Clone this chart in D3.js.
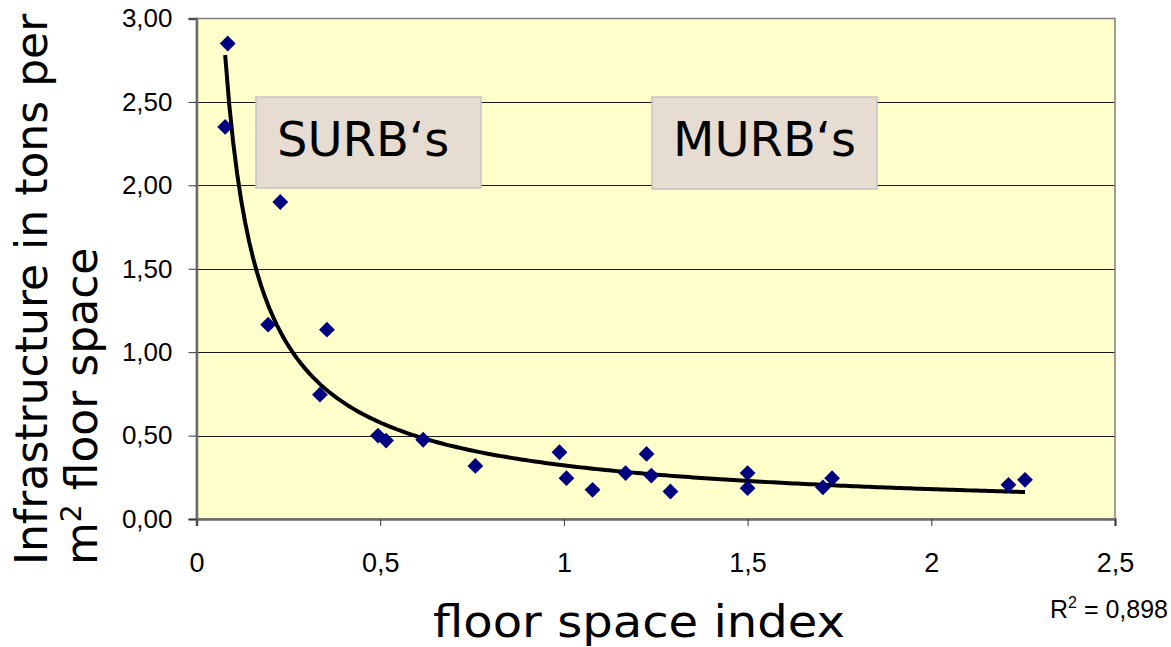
<!DOCTYPE html>
<html>
<head>
<meta charset="utf-8">
<script src="https://cdn.jsdelivr.net/npm/d3@7"></script>
<style>
  html, body { margin: 0; padding: 0; background: #ffffff; }
  svg { display: block; }
</style>
</head>
<body>
<svg id="chart" width="1171" height="647"></svg>
<script>
// ---- Data ----
const fsi = [0.085, 0.078, 0.228, 0.195, 0.355, 0.336, 0.494, 0.516, 0.617, 0.759,
             0.988, 1.007, 1.078, 1.168, 1.225, 1.238, 1.290, 1.500, 1.500, 1.705,
             1.730, 2.210, 2.255];
const infra = [2.85, 2.35, 1.90, 1.165, 1.135, 0.745, 0.50, 0.47, 0.475, 0.318,
               0.40, 0.245, 0.175, 0.275, 0.39, 0.26, 0.165, 0.275, 0.185, 0.19,
               0.245, 0.205, 0.235];
const yTicks = [0, 0.5, 1, 1.5, 2, 2.5, 3];
const xTicks = [0, 0.5, 1, 1.5, 2, 2.5];
const yTickLabels = ["0,00", "0,50", "1,00", "1,50", "2,00", "2,50", "3,00"];
const xTickLabels = ["0", "0,5", "1", "1,5", "2", "2,5"];
const groupLabels = ["SURB\u2018s", "MURB\u2018s"];
const r2Label = "0,898";

// ---- Layout ----
const plot = { left: 196.5, right: 1115, top: 18.5, bottom: 519 };

const svg = d3.select("#chart");
const x = d3.scaleLinear().domain([0, 2.5]).range([plot.left, plot.right]);
const y = d3.scaleLinear().domain([0, 3]).range([plot.bottom, plot.top]);

// plot background
svg.append("rect")
  .attr("x", plot.left).attr("y", plot.top)
  .attr("width", plot.right - plot.left).attr("height", plot.bottom - plot.top)
  .attr("fill", "#ffffcc");

// gridlines
svg.append("g")
  .selectAll("line")
  .data(yTicks.filter(d => d > 0 && d < 3))
  .join("line")
  .attr("x1", plot.left).attr("x2", plot.right)
  .attr("y1", d => Math.round(y(d)) + 0.5).attr("y2", d => Math.round(y(d)) + 0.5)
  .attr("stroke", "#1a1a1a").attr("stroke-width", 1);

// plot border
svg.append("rect")
  .attr("x", plot.left).attr("y", plot.top)
  .attr("width", plot.right - plot.left).attr("height", plot.bottom - plot.top)
  .attr("fill", "none").attr("stroke", "#7f7f7f").attr("stroke-width", 1.5);

// axes
const yAxis = d3.axisLeft(y).tickValues(yTicks).tickSize(8).tickPadding(16)
  .tickFormat((d, i) => yTickLabels[i]);
const gy = svg.append("g").attr("transform", `translate(${plot.left},0)`).call(yAxis);
gy.select(".domain").attr("stroke", "#6b6b6b").attr("stroke-width", 2.5);
gy.selectAll(".tick line").attr("stroke", "#333").attr("stroke-width", 1);
gy.selectAll("text").attr("font-family", "Liberation Sans, Arial, sans-serif")
  .attr("font-size", 26).attr("fill", "#000");

const xAxis = d3.axisBottom(x).tickValues(xTicks).tickSize(7).tickPadding(27)
  .tickFormat((d, i) => xTickLabels[i]);
const gx = svg.append("g").attr("transform", `translate(0,${plot.bottom})`).call(xAxis);
gx.select(".domain").attr("stroke", "#6b6b6b").attr("stroke-width", 2.5);
gx.selectAll(".tick line").attr("stroke", "#333").attr("stroke-width", 1);
gx.selectAll("text").attr("font-family", "Liberation Sans, Arial, sans-serif")
  .attr("font-size", 27).attr("fill", "#000");

// power trendline fitted to the data (least squares in log space)
const pts = fsi.map((v, i) => [v, infra[i]]);
const lx = pts.map(p => Math.log(p[0])), ly = pts.map(p => Math.log(p[1]));
const mx = d3.mean(lx), my = d3.mean(ly);
const b = d3.sum(lx.map((v, i) => (v - mx) * (ly[i] - my))) / d3.sum(lx.map(v => (v - mx) ** 2));
const a = Math.exp(my - b * mx);
const [xmin, xmax] = d3.extent(fsi);
const trend = d3.range(0, 201).map(i => {
  const xv = xmin + (xmax - xmin) * i / 200;
  return [xv, a * Math.pow(xv, b)];
});
svg.append("path")
  .datum(trend)
  .attr("d", d3.line().x(d => x(d[0])).y(d => y(d[1])))
  .attr("fill", "none").attr("stroke", "#000").attr("stroke-width", 4)
  .attr("stroke-linejoin", "round");

// markers
svg.append("g")
  .selectAll("path")
  .data(pts)
  .join("path")
  .attr("d", d3.symbol().type(d3.symbolSquare).size(125))
  .attr("transform", d => `translate(${x(d[0])},${y(d[1])}) rotate(45)`)
  .attr("fill", "#000080");

// annotation boxes
const boxes = [
  { x: 256, y: 97, w: 225, h: 91, tx: 277, ty: 156 },
  { x: 652, y: 97, w: 225, h: 92, tx: 673, ty: 156 }
];
boxes.forEach((bx, i) => {
  svg.append("rect")
    .attr("x", bx.x).attr("y", bx.y).attr("width", bx.w).attr("height", bx.h)
    .attr("fill", "#e6dcd2").attr("stroke", "#c3c3c3").attr("stroke-width", 1.5);
  svg.append("text")
    .attr("x", bx.tx).attr("y", bx.ty)
    .attr("font-family", "DejaVu Sans, Verdana, sans-serif")
    .attr("font-size", 48).attr("fill", "#000")
    .text(groupLabels[i]);
});

// axis titles
const yTitle = svg.append("text")
  .attr("transform", "translate(0,565) rotate(-90)")
  .attr("font-family", "DejaVu Sans, Verdana, sans-serif")
  .attr("font-size", 44).attr("fill", "#000");
yTitle.append("tspan").attr("x", 0).attr("y", 47).text("Infrastructure in tons per");
const l2 = yTitle.append("tspan").attr("x", 0).attr("y", 97).text("m");
l2.append("tspan").attr("font-size", 28).attr("dy", -16).text("2");
l2.append("tspan").attr("dy", 16).text(" floor space");

svg.append("text")
  .attr("x", 639).attr("y", 637)
  .attr("text-anchor", "middle")
  .attr("font-family", "DejaVu Sans, Verdana, sans-serif")
  .attr("font-size", 44).attr("fill", "#000")
  .attr("textLength", 412).attr("lengthAdjust", "spacingAndGlyphs")
  .text("floor space index");

// R² label
const r2 = svg.append("text")
  .attr("x", 1168).attr("y", 618)
  .attr("text-anchor", "end")
  .attr("font-family", "Liberation Sans, Arial, sans-serif")
  .attr("font-size", 25).attr("fill", "#000");
r2.append("tspan").text("R");
r2.append("tspan").attr("font-size", 16).attr("dy", -10).text("2");
r2.append("tspan").attr("dy", 10).text(" = " + r2Label);
</script>
</body>
</html>
